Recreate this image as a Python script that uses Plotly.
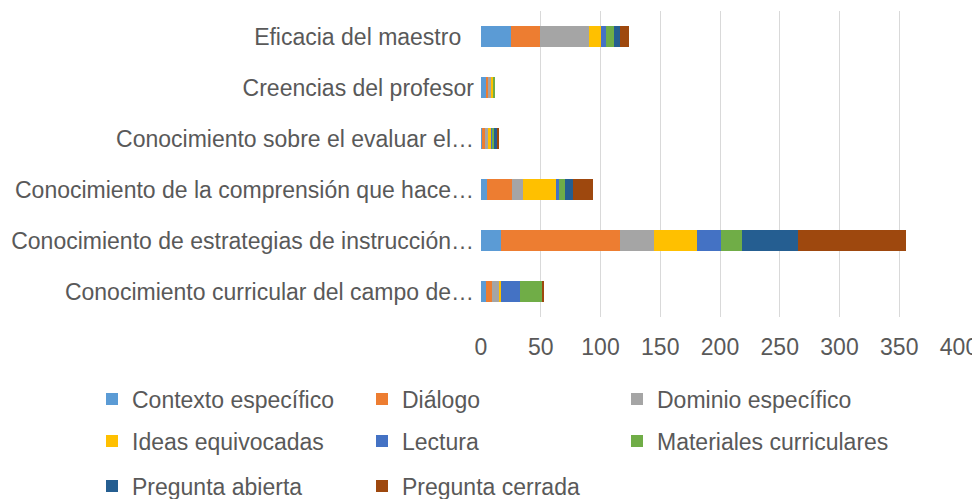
import plotly.graph_objects as go

categories = [
    "Eficacia del maestro\u00a0\u00a0",
    "Creencias del profesor",
    "Conocimiento sobre el evaluar el…",
    "Conocimiento de la comprensión que hace…",
    "Conocimiento de estrategias de instrucción…",
    "Conocimiento curricular del campo de…",
]

series_names = [
    "Contexto específico", "Diálogo", "Dominio específico",
    "Ideas equivocadas", "Lectura", "Materiales curriculares",
    "Pregunta abierta", "Pregunta cerrada",
]

contexto = [25, 4, 1, 5, 17, 4]
dialogo = [24, 2, 2, 21, 99, 5]
dominio = [41, 3, 3, 9, 29, 6]
ideas = [10, 1, 3, 28, 36, 2]
lectura = [5, 0, 1, 2, 20, 16]
materiales = [6, 2, 1, 5, 17, 18]
abierta = [5, 0, 2, 7, 47, 0]
cerrada = [8, 0, 2, 17, 91, 2]

values = [contexto, dialogo, dominio, ideas, lectura, materiales, abierta, cerrada]
colors = ["#5B9BD5", "#ED7D31", "#A5A5A5", "#FFC000", "#4472C4", "#70AD47", "#255E91", "#9E480E"]

x_ticks = [0, 50, 100, 150, 200, 250, 300, 350, 400]

FONT = "Liberation Sans, Arial, sans-serif"
FS = 23
W, H = 972, 491

# legend positions (pixels, figure coords) for each entry
leg_cols = [84, 354, 609]
leg_rows = [391, 433, 478]

fig = go.Figure()
layout_legends = {}
for i, (name, vals, col) in enumerate(zip(series_names, values, colors)):
    lname = "legend" if i == 0 else f"legend{i+1}"
    fig.add_trace(go.Bar(
        name=name, y=categories, x=vals, orientation="h",
        marker=dict(color=col, line=dict(width=0)),
        legend=lname,
    ))
    cx = leg_cols[i % 3]
    cy = leg_rows[i // 3]
    layout_legends[lname] = dict(
        x=cx / W, y=1 - cy / H, xref="container", yref="container",
        xanchor="left", yanchor="middle",
        bgcolor="rgba(0,0,0,0)", borderwidth=0,
        font=dict(family=FONT, size=FS, color="#595959"),
        itemwidth=30, itemsizing="constant",
    )

fig.update_layout(
    barmode="stack",
    bargap=0.6,
    width=W, height=H,
    paper_bgcolor="white", plot_bgcolor="white",
    margin=dict(l=473, r=21, t=3, b=182, autoexpand=False),
    font=dict(family=FONT, size=FS, color="#595959"),
    showlegend=True,
    **layout_legends,
)
fig.update_xaxes(
    range=[0, 400], tickvals=x_ticks, showgrid=True, gridcolor="#D9D9D9",
    gridwidth=1, zeroline=False, showline=False, ticks="",
    tickfont=dict(family=FONT, size=FS, color="#595959"),
    ticklabelstandoff=14, automargin=False,
)
fig.update_yaxes(
    autorange="reversed", showgrid=False, showline=False, ticks="",
    tickfont=dict(family=FONT, size=FS, color="#595959"),
    ticklabelstandoff=6, automargin=False,
)

fig.write_html("out.html")
